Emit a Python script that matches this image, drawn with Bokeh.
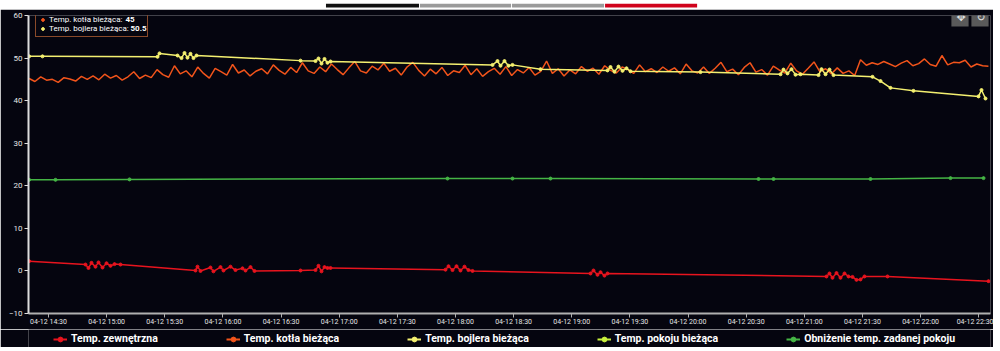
import math
import pandas as pd
from bokeh.plotting import figure
from bokeh.models import (Range1d, FixedTicker, DatetimeTickFormatter, Legend,
                          LegendItem, Label)
from bokeh.layouts import column
from bokeh.embed import file_html
from bokeh.resources import INLINE

# ---------------- data ----------------
DAY = "2024-04-12"
series_names = ["Temp. zewnętrzna", "Temp. kotła bieżąca", "Temp. bojlera bieżąca",
                "Temp. pokoju bieżąca", "Obniżenie temp. zadanej pokoju"]
series_colors = ["#e8141e", "#f2541b", "#f4f070", "#c8f03c", "#45b545"]

x_tick_labels = ["14:30", "15:00", "15:30", "16:00", "16:30", "17:00", "17:30", "18:00",
                 "18:30", "19:00", "19:30", "20:00", "20:30", "21:00", "21:30", "22:00", "22:30"]
y_ticks = [-10, 0, 10, 20, 30, 40, 50, 60]
x_start, x_end = "14:19:41", "22:36:04"

# Temp. zewnętrzna
zewn_times = ["14:20:00", "14:49:05", "14:50:38", "14:52:11", "14:54:15", "14:55:48", "14:57:52",
              "14:59:56", "15:02:00", "15:04:04", "15:07:09", "15:45:51", "15:46:53", "15:48:26",
              "15:53:35", "15:55:08", "15:58:45", "16:00:18", "16:03:55", "16:06:29", "16:10:06",
              "16:11:39", "16:14:14", "16:16:18", "16:40:02", "16:47:46", "16:49:19", "16:50:52",
              "16:52:25", "16:53:58", "16:55:31", "17:54:51", "17:56:24", "17:58:28", "18:00:32",
              "18:02:35", "18:04:39", "18:06:43", "18:08:47", "19:09:40", "19:11:13", "19:13:17",
              "19:14:50", "19:16:53", "19:18:26", "21:11:26", "21:12:59", "21:14:32", "21:16:36",
              "21:18:40", "21:20:44", "21:22:48", "21:24:52", "21:26:55", "21:28:59", "21:31:03",
              "21:42:55", "22:35:02"]
zewn_values = [2.3, 1.5, 0.7, 1.9, 1.0, 2.0, 0.8,
               1.8, 1.2, 1.6, 1.5, 0.1, 1.0, 0.0,
               0.8, -0.1, 0.9, 0.1, 1.0, 0.2, 0.6,
               0.1, 0.9, 0.0, 0.1, 0.2, 1.2, -0.1,
               0.9, 0.7, 0.7, 0.3, 1.1, 0.2, 1.1,
               0.1, 1.0, 0.2, 0.0, -0.6, 0.1, -0.9,
               -0.3, -1.1, -0.6, -1.3, -0.6, -1.6, -0.5,
               -1.6, -0.6, -1.3, -1.4, -2.1, -2.0, -1.3,
               -1.3, -2.4]

# Temp. kotła bieżąca (every 3 minutes from 14:20)
kotla_start = "14:20:00"
kotla_step = "3min"
kotla_values = [
    45.2, 44.5, 45.6, 44.8, 45.0, 44.3, 45.4, 45.1, 44.6, 45.7,
    45.0, 45.8, 44.9, 46.2, 45.3, 45.9, 44.8, 45.6, 46.8, 45.2,
    46.0, 45.4, 47.3, 46.1, 45.5, 48.2, 46.3, 47.0, 45.6, 47.9,
    46.4, 45.3, 47.6, 46.8, 46.0, 48.5, 46.5, 47.2, 45.8, 46.9,
    47.5, 46.3, 48.4, 47.1, 46.2, 47.8, 46.6, 48.9, 47.0, 46.4,
    47.9, 46.8, 48.6, 47.3, 46.1, 47.7, 49.2, 47.0, 46.5, 48.1,
    47.2, 48.8, 46.9, 47.6, 46.0, 47.9, 49.0, 47.1, 45.8, 47.4,
    46.3, 47.8, 45.9, 47.0, 46.6, 48.3, 46.1, 47.5, 45.7, 46.8,
    47.6, 46.2, 48.0, 45.9, 47.3, 46.5, 47.8, 46.0, 46.9, 49.3,
    46.4, 47.5, 45.8, 47.2, 46.3, 48.0, 46.9, 47.6, 46.2, 48.2,
    47.1, 46.5, 47.9, 47.3, 46.4, 48.4, 46.8, 47.5, 46.6, 47.9,
    46.9, 47.7, 46.3, 48.6, 47.0, 46.5, 47.9, 46.4, 47.6, 49.0,
    46.8, 47.4, 46.1, 47.8, 48.9, 46.7, 47.3, 46.0, 48.1, 47.2,
    46.5, 48.8, 47.0, 46.2, 47.6, 49.1, 46.8, 47.5, 46.3, 47.7,
    46.4, 47.0, 45.9, 49.6, 48.3, 48.9, 48.5, 49.2, 48.6, 48.0,
    48.8, 49.4, 48.2, 48.7, 49.8, 48.5, 48.1, 50.6, 48.4, 49.0,
    48.9, 49.5, 47.9, 48.6, 48.2, 48.1,
]

# Temp. bojlera bieżąca
bojler_times = ["14:20:00", "14:26:54", "15:26:15", "15:27:17", "15:36:34", "15:38:38", "15:40:11",
                "15:41:43", "15:43:16", "15:44:49", "15:46:22", "16:40:02", "16:47:46", "16:49:19",
                "16:50:52", "16:52:25", "16:53:58", "16:55:31", "18:19:06", "18:21:41", "18:23:14",
                "18:25:17", "18:27:22", "18:29:25", "18:43:52", "19:18:26", "19:19:59", "19:22:03",
                "19:24:07", "19:26:11", "19:28:15", "19:30:19", "20:06:26", "20:47:43", "20:49:15",
                "20:51:19", "20:53:23", "20:55:27", "20:58:02", "21:07:19", "21:08:52", "21:10:56",
                "21:12:59", "21:15:04", "21:35:11", "21:39:19", "21:44:28", "21:56:20", "22:29:53",
                "22:31:25", "22:33:29"]
bojler_values = [50.4, 50.4, 50.3, 51.1, 50.6, 50.0, 51.2,
                 50.1, 51.0, 50.0, 50.6, 49.4, 49.3, 49.9,
                 48.7, 49.8, 48.9, 49.2, 48.4, 49.3, 48.2,
                 49.3, 48.2, 48.4, 47.4, 47.1, 47.9, 46.8,
                 48.0, 47.0, 47.6, 46.9, 46.7, 46.2, 47.3,
                 46.4, 47.4, 46.1, 46.2, 46.0, 47.4, 46.2,
                 47.3, 46.0, 45.6, 44.6, 43.0, 42.3, 41.0,
                 42.5, 40.5]

# Temp. pokoju bieżąca (no visible points)
pokoj_times = []
pokoj_values = []

# Obniżenie temp. zadanej pokoju
obniz_times = ["14:20:00", "14:33:37", "15:11:48", "17:55:53", "18:29:25", "18:49:02",
               "20:36:22", "20:44:06", "21:34:09", "22:15:26", "22:32:28"]
obniz_values = [21.4, 21.4, 21.5, 21.7, 21.7, 21.7, 21.6, 21.6, 21.6, 21.8, 21.8]

current_names = ["Temp. kotła bieżąca:", "Temp. bojlera bieżąca:"]
current_values = ["45", "50.5"]
current_colors = ["#f2541b", "#f4f070"]


def ts(times):
    return [pd.Timestamp(f"{DAY} {t}") for t in times]


# ---------------- styling ----------------
BG = "#05050f"
FONT = "Roboto"
NAN_X = [pd.Timestamp(f"{DAY} 12:00:00")]
NAN_Y = [math.nan]

p = figure(width=993, height=320, x_axis_type="datetime", output_backend="svg",
           toolbar_location=None, background_fill_color=BG, border_fill_color=BG,
           x_range=Range1d(pd.Timestamp(f"{DAY} {x_start}"), pd.Timestamp(f"{DAY} {x_end}")),
           y_range=Range1d(-10, 60),
           min_border_left=28, min_border_right=3, min_border_top=6, min_border_bottom=16)
p.outline_line_color = None
p.xgrid.visible = False
p.ygrid.visible = False

# axes
p.yaxis.ticker = FixedTicker(ticks=y_ticks)
p.yaxis.axis_line_color = "#dddddd"
p.yaxis.axis_line_width = 2
p.yaxis.major_tick_line_color = "#dddddd"
p.yaxis.major_tick_out = 4
p.yaxis.major_tick_in = 0
p.yaxis.minor_tick_line_color = None
p.yaxis.major_label_text_color = "#e6e6e6"
p.yaxis.major_label_text_font = FONT
p.yaxis.major_label_text_font_size = "8px"
p.yaxis.major_label_standoff = 2

tick_ms = [pd.Timestamp(f"{DAY} {t}").value // 10**6 for t in x_tick_labels]
p.xaxis.ticker = FixedTicker(ticks=tick_ms)
fmt = "%m-%d %H:%M"
p.xaxis.formatter = DatetimeTickFormatter(minutes=fmt, hourmin=fmt, hours=fmt, days=fmt,
                                          minsec=fmt, seconds=fmt)
p.xaxis.axis_line_color = "#b0b0b0"
p.xaxis.axis_line_width = 2
p.xaxis.major_tick_line_color = "#b0b0b0"
p.xaxis.major_tick_out = 4
p.xaxis.major_tick_in = 0
p.xaxis.minor_tick_line_color = None
p.xaxis.major_label_text_color = "#e6e6e6"
p.xaxis.major_label_text_font = FONT
p.xaxis.major_label_text_font_size = "7px"
p.xaxis.major_label_standoff = 0

# series
LW = 1.5
p.line(ts(zewn_times), zewn_values, color=series_colors[0], line_width=LW)
p.scatter(ts(zewn_times), zewn_values, color=series_colors[0], size=3)

kotla_times = pd.date_range(pd.Timestamp(f"{DAY} {kotla_start}"), periods=len(kotla_values),
                            freq=kotla_step)
p.line(kotla_times, kotla_values, color=series_colors[1], line_width=LW)

p.line(ts(bojler_times), bojler_values, color=series_colors[2], line_width=LW)
p.scatter(ts(bojler_times), bojler_values, color=series_colors[2], size=3)

p.line(ts(pokoj_times), pokoj_values, color=series_colors[3], line_width=LW)

p.line(ts(obniz_times), obniz_values, color=series_colors[4], line_width=LW)
p.scatter(ts(obniz_times), obniz_values, color=series_colors[4], size=3)

# current-values box (top-left)
cur_icons = [p.scatter(NAN_X, NAN_Y, color=c, size=8) for c in current_colors]
cur_items = [LegendItem(label=n, renderers=[ic]) for n, ic in zip(current_names, cur_icons)]
cur_legend = Legend(items=cur_items, location=(7, 276), orientation="vertical",
                    label_text_color="#ffffff", label_text_font=FONT, label_text_font_size="8px",
                    glyph_width=7, glyph_height=9, label_height=9, label_width=95,
                    label_standoff=3, spacing=0, padding=3, margin=0,
                    background_fill_alpha=0,
                    border_line_color="#8a4a2a", border_line_alpha=1, border_line_width=1.2)
p.add_layout(cur_legend)
for val, (xx, yy) in zip(current_values, [(97, 294), (102, 285)]):
    p.add_layout(Label(x=xx, y=yy, x_units="screen", y_units="screen", text=val,
                       text_color="#ffffff", text_font=FONT, text_font_size="8px",
                       text_font_style="bold", text_baseline="middle"))

# tool buttons top-right
for sym, xx in [("✥", 931.5), ("↻", 951.5)]:
    p.add_layout(Label(x=xx, y=297.5, x_units="screen", y_units="screen", text=sym,
                       text_color="#e0e0e0", text_font="DejaVu Sans", text_font_size="11px",
                       text_align="center", text_baseline="middle",
                       background_fill_color="#5a5a5a", padding=(5, 3, 5, 3)))

# bottom legend strip
lg = figure(width=993, height=18, x_range=(0, 1), y_range=(0, 1), output_backend="svg",
            toolbar_location=None, min_border=0, background_fill_color=BG,
            border_fill_color=BG)
lg.axis.visible = False
lg.grid.visible = False
lg.outline_line_color = None
items = []
for name, c in zip(series_names, series_colors):
    ln = lg.line([0.5], NAN_Y, color=c, line_width=2)
    mk = lg.scatter([0.5], NAN_Y, color=c, size=6)
    items.append(LegendItem(label=name, renderers=[ln, mk]))
legend = Legend(items=items, orientation="horizontal", location=(25, 2),
                label_text_color="#ffffff", label_text_font=FONT, label_text_font_size="10.5px",
                label_text_font_style="bold", glyph_width=14, glyph_height=12, label_height=12,
                label_standoff=4, spacing=68, padding=0, margin=0,
                background_fill_alpha=0, border_line_color=None)
lg.add_layout(legend)

# top page strip
top = figure(width=1000, height=9, x_range=(0, 1000), y_range=(0, 9), output_backend="svg",
             toolbar_location=None, min_border=0, background_fill_color="#ffffff",
             border_fill_color="#ffffff")
top.axis.visible = False
top.grid.visible = False
top.outline_line_color = None
top.quad(left=[307, 404, 499, 595], right=[403, 498, 594, 690], bottom=[5] * 4, top=[9] * 4,
         color=["#111111", "#9a9a9a", "#9a9a9a", "#d0021b"], line_color=None)

layout = column(top, p, lg, spacing=0)
open("out.html", "w").write(file_html(layout, INLINE))
